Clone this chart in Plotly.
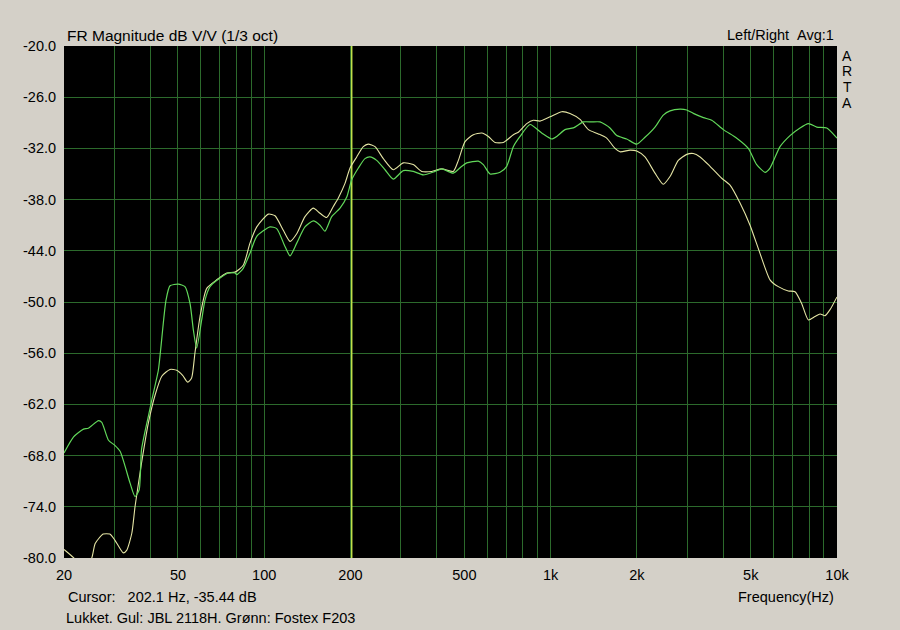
import plotly.graph_objects as go

# ---------------- data ----------------
freq_yellow = [20, 21.8, 23.3, 25.0, 25.7, 27.4, 28.9, 30.1, 32.2, 33.1, 34.5, 35.4, 37.3, 39.4,
               41.6, 43.9, 46.9, 49.5, 51.9, 54.1, 55.8, 57.3, 59.7, 63.0, 68.3, 74.0, 79.1,
               84.5, 89.2, 94.2, 103.4, 109.1, 116.6, 123.1, 129.9, 138.8, 148.4, 156.6,
               165.3, 174.3, 181.5, 191.5, 199.4, 210.4, 221.8, 230.8, 243.8, 260.6, 282.4,
               306, 331.6, 354.8, 384.6, 416.8, 457.4, 476.4, 502.6, 537.2, 574.8, 606.2,
               639.8, 684, 741.2, 771.6, 825.4, 870.4, 918.4, 995, 1094, 1169, 1267, 1355,
               1468, 1570, 1679, 1747, 1894, 1999, 2136, 2315, 2474, 2612, 2792, 2988, 3150,
               3326, 3604, 3958, 4232, 4586, 4970, 5384, 5836, 6239, 6762, 7136, 7532, 7943,
               8380, 8726, 9084, 9456, 10000]
db_yellow = [-79.0, -80.1, -81.5, -80.0, -78.3, -77.2, -77.2, -77.9, -79.4, -79.1, -77.1, -74.0,
             -68.9, -64.2, -60.9, -58.7, -57.9, -58.0, -58.6, -59.4, -58.9, -56.0, -51.7, -48.4,
             -47.4, -46.6, -46.5, -45.7, -43.1, -41.2, -39.7, -39.9, -41.6, -42.9, -42.0, -40.0,
             -39.0, -39.6, -40.1, -38.8, -37.8, -36.1, -34.3, -33.0, -31.8, -31.5, -31.8, -33.2,
             -34.5, -33.7, -33.9, -34.7, -34.7, -34.4, -34.7, -33.4, -31.2, -30.4, -30.2, -30.6,
             -31.3, -31.3, -30.4, -30.1, -29.1, -28.7, -28.8, -28.3, -27.7, -27.9, -28.6, -29.8,
             -30.3, -30.8, -32.0, -32.4, -32.2, -32.3, -33.0, -34.9, -36.2, -35.3, -33.4, -32.7,
             -32.6, -33.0, -34.1, -35.5, -36.3, -38.4, -41.0, -44.3, -47.4, -48.2, -48.7, -48.8,
             -50.2, -52.1, -51.7, -51.4, -51.6, -50.9, -49.4]

freq_green = [20, 21.6, 23.4, 24.3, 26.4, 27.1, 28.6, 30.1, 31.4, 34.0, 35.4, 36.6, 37.3, 39.4,
              40.5, 42.7, 43.5, 45.4, 46.9, 50.1, 52.9, 55.1, 56.6, 58.1, 60.5, 62.1, 64.7,
              70.1, 75.0, 79.1, 80.2, 84.5, 89.2, 94.2, 104.8, 110.6, 118.2, 123.1, 129.9,
              138.8, 148.4, 156.6, 163.0, 172.1, 184.0, 194.2, 202.0, 213.2, 224.8, 234,
              247, 264.2, 282.4, 306, 331.6, 359.4, 394.8, 416.8, 457.4, 489.4, 509.6, 559.4,
              582.2, 614.6, 666, 702.8, 741.2, 782.2, 847.6, 931, 1009, 1051, 1123, 1201,
              1301, 1392, 1488, 1612, 1702, 1844, 1999, 2136, 2315, 2474, 2612, 2831, 2988,
              3150, 3416, 3653, 4009, 4467, 4902, 5243, 5606, 5836, 6325, 6854, 7428, 7943,
              8497, 9210, 10000]
db_green = [-67.7, -65.8, -64.9, -64.8, -63.9, -64.1, -66.2, -66.8, -67.5, -71.2, -72.8, -72.0,
            -67.3, -63.4, -61.5, -58.0, -55.6, -49.8, -48.1, -47.9, -48.2, -50.2, -53.3, -55.4,
            -52.1, -49.8, -48.2, -47.2, -46.6, -46.6, -46.8, -46.05, -44.3, -42.3, -41.2, -41.4,
            -43.5, -44.6, -43.1, -41.2, -40.5, -41.0, -41.7, -40.0, -39.0, -37.7, -35.7, -34.3,
            -33.2, -33.0, -33.4, -34.5, -35.6, -34.6, -34.7, -35.1, -34.7, -34.4, -34.9, -34.1,
            -33.7, -33.5, -33.9, -35.0, -34.8, -34.1, -31.8, -30.6, -29.2, -30.2, -30.9, -30.6,
            -29.8, -29.6, -28.9, -28.9, -28.9, -29.6, -30.5, -30.9, -31.5, -30.7, -29.5, -28.1,
            -27.6, -27.4, -27.5, -27.9, -28.4, -28.7, -29.8, -30.8, -32.0, -33.9, -34.8, -34.3,
            -31.8, -30.5, -29.6, -29.1, -29.5, -29.6, -30.8]

cursor_freq = 202.1
cursor_db = -35.44

x_grid = [20, 30, 40, 50, 60, 70, 80, 90, 100, 200, 300, 400, 500, 600, 700, 800, 900,
          1000, 2000, 3000, 4000, 5000, 6000, 7000, 8000, 9000, 10000]
x_labels = {20: "20", 50: "50", 100: "100", 200: "200", 500: "500", 1000: "1k",
            2000: "2k", 5000: "5k", 10000: "10k"}
y_ticks = [-80, -74, -68, -62, -56, -50, -44, -38, -32, -26, -20]

# ---------------- figure ----------------
BG = "#d4d0c8"
GRID = "#2c6a2c"
FONT = "Liberation Sans, Arial, sans-serif"

fig = go.Figure()
fig.add_trace(go.Scatter(x=[cursor_freq, cursor_freq], y=[y_ticks[0], y_ticks[-1]],
                         mode="lines", line=dict(color="#bfe04a", width=1.5),
                         hoverinfo="skip", showlegend=False))
fig.add_trace(go.Scatter(x=freq_yellow, y=db_yellow, mode="lines",
                         line=dict(color="#e4e4a4", width=1.1, shape="spline", smoothing=0.6),
                         name="JBL 2118H", showlegend=False))
fig.add_trace(go.Scatter(x=freq_green, y=db_green, mode="lines",
                         line=dict(color="#62d85a", width=1.2, shape="spline", smoothing=0.6),
                         name="Fostex F203", showlegend=False))

fig.update_layout(
    width=900, height=630,
    paper_bgcolor=BG, plot_bgcolor="#000000",
    margin=dict(l=64, r=63, t=46, b=72, pad=0),
    font=dict(family=FONT, size=14.5, color="#000000"),
    showlegend=False,
)
fig.update_xaxes(
    type="log", range=[1.30103, 4.0], tickmode="array", tickvals=x_grid,
    ticktext=[x_labels.get(v, "") for v in x_grid],
    showgrid=True, gridcolor=GRID, gridwidth=1, zeroline=False, showline=False,
    ticks="outside", ticklen=4, tickcolor="rgba(0,0,0,0)",
    tickfont=dict(family=FONT, size=14.5, color="#000000"),
)
fig.update_yaxes(
    range=[-80, -20], tickmode="array", tickvals=y_ticks,
    ticktext=[f"{v:.1f}" for v in y_ticks],
    showgrid=True, gridcolor=GRID, gridwidth=1, zeroline=False, showline=False,
    ticks="outside", ticklen=4, tickcolor="rgba(0,0,0,0)",
    tickfont=dict(family=FONT, size=14.5, color="#000000"),
)

def px(xp):
    return (xp - 64) / 773.0

def py(yp):
    return (558 - yp) / 512.0

ann = [
    dict(text="FR Magnitude dB V/V (1/3 oct)", x=px(65), y=py(35), xanchor="left", size=15.5),
    dict(text="Left/Right\u00a0\u00a0Avg:1", x=px(836), y=py(35), xanchor="right", size=14.5),
    dict(text=f"Cursor:\u00a0\u00a0\u00a0{cursor_freq} Hz, {cursor_db:.2f} dB", x=px(66), y=py(597),
         xanchor="left", size=14.5),
    dict(text="Lukket. Gul: JBL 2118H. Grønn: Fostex F203", x=px(64), y=py(618), xanchor="left",
         size=14.5),
    dict(text="Frequency(Hz)", x=px(836), y=py(597), xanchor="right", size=14.5),
]
for i, ch in enumerate("ARTA"):
    ann.append(dict(text=ch, x=px(847), y=py(55.5 + i * 15.7), xanchor="center", size=14))
for a in ann:
    size = a.pop("size")
    fig.add_annotation(xref="paper", yref="paper", showarrow=False, yanchor="middle",
                       font=dict(family=FONT, size=size, color="#000000"), **a)

fig.write_html(
    "out.html",
    config={"displayModeBar": False},
    post_script="document.body.style.margin='0';document.body.style.background='%s';" % BG,
)
